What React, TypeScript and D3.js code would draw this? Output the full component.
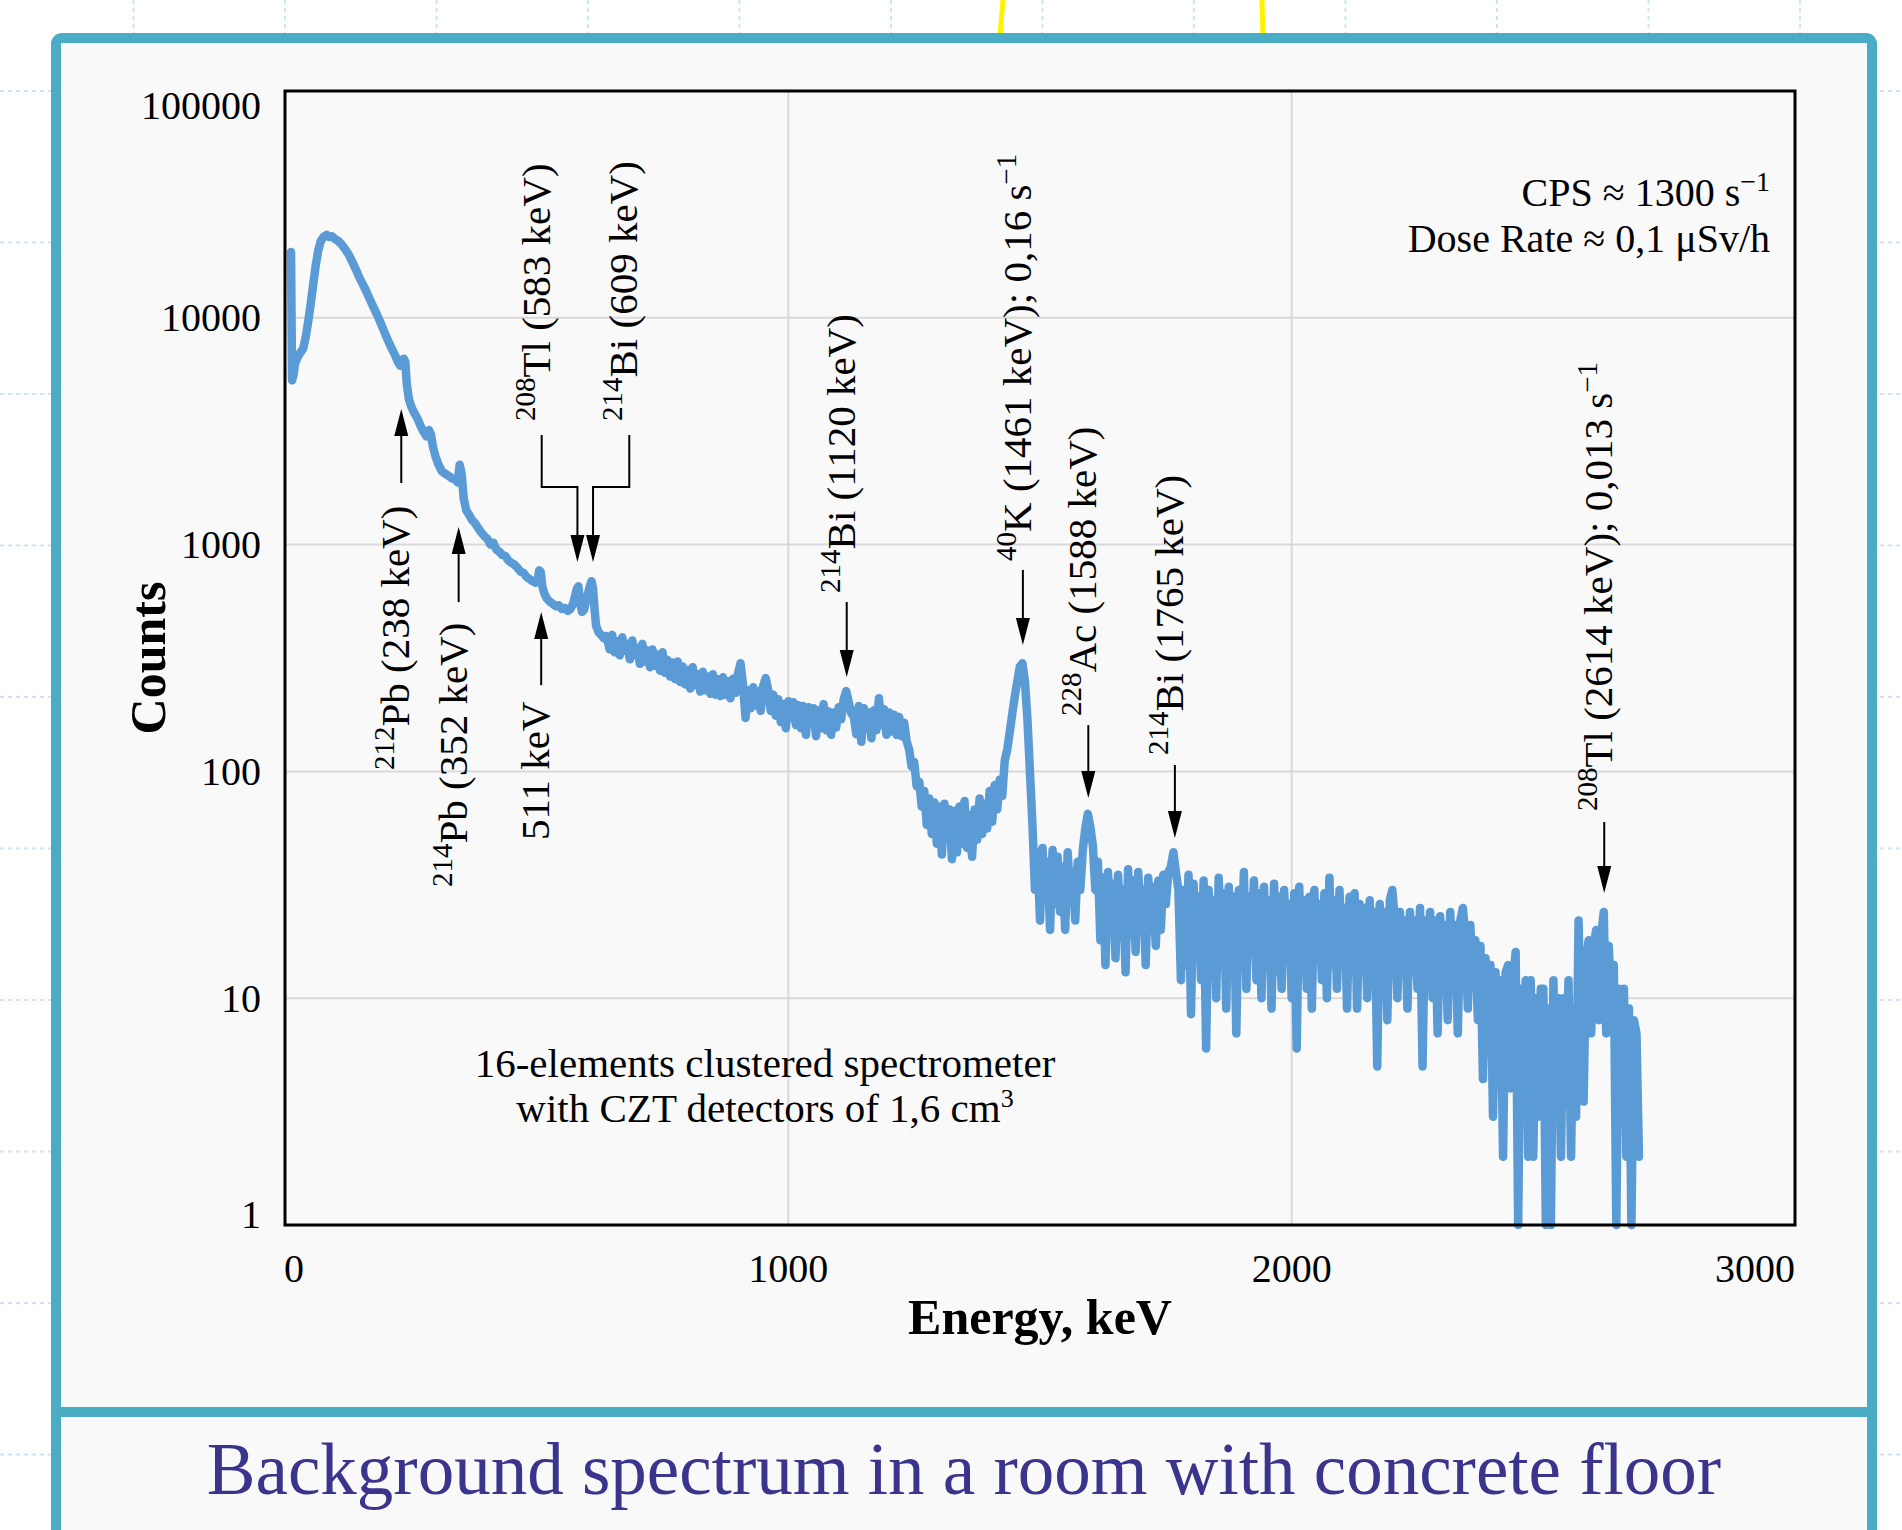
import React from "react";
import * as d3 from "d3";

const SERIF = "'Liberation Serif', 'Times New Roman', serif";

const xTickValues = [0, 1000, 2000, 3000];
const yTickValues = [1, 10, 100, 1000, 10000, 100000];

// [energy keV, counts] — low-energy part of the spectrum
const lowEnergySpectrum: [number, number][] = [
  [12, 19500], [14, 5300], [17, 5600], [20, 6300], [25, 6700], [30, 7000], [36, 7300], [41, 8200],
  [46, 9600], [51, 11500], [56, 14000], [61, 17000], [66, 19800], [71, 21800], [77, 22800], [83, 23200],
  [88, 22700], [93, 22900], [99, 22300], [106, 21800], [113, 21000], [120, 20000], [127, 18900], [134, 17600],
  [141, 16300], [148, 15000], [155, 14000], [162, 13000], [169, 12000], [176, 11100], [183, 10300], [190, 9500],
  [197, 8700], [204, 8000], [211, 7400], [218, 6900], [224, 6400], [229, 6150], [233, 6200], [236, 6600],
  [239, 6400], [242, 5100], [246, 4400], [251, 4050], [257, 3800], [263, 3600], [269, 3350], [275, 3150],
  [281, 3000], [286, 3200], [290, 3050], [294, 2700], [299, 2450], [305, 2250], [312, 2100], [319, 2050],
  [326, 2000], [333, 1950], [339, 1930], [343, 1880], [347, 2250], [351, 2050], [355, 1600], [360, 1420],
  [366, 1350], [372, 1280], [378, 1240], [384, 1180], [390, 1130], [396, 1090], [402, 1060], [408, 1000],
  [414, 1020], [420, 950], [426, 930], [432, 900], [438, 890], [444, 850], [450, 830], [456, 815],
  [462, 790], [468, 760], [474, 750], [480, 720], [486, 705], [492, 690], [498, 680], [502, 700],
  [505, 770], [508, 760], [511, 660], [515, 610], [520, 580], [526, 560], [532, 548], [538, 535],
  [544, 540], [550, 520], [556, 525], [562, 510], [567, 520], [572, 545], [576, 590], [580, 640],
  [583, 655], [586, 560], [590, 505], [594, 515], [598, 560], [602, 610], [606, 660], [609, 690],
  [612, 640], [615, 520], [618, 440], [623, 410], [628, 400], [634, 385], [638, 395],
];

// channels 640 … 1480 keV, 5 keV per channel
const midStartKeV = 640;
const midStepKeV = 5;
const midCounts = [
  385, 345, 400, 335, 375, 325, 390, 340, 365, 312,
  378, 325, 350, 298, 365, 305, 342, 288, 345, 292,
  328, 278, 335, 272, 310, 262, 302, 255, 305, 248,
  290, 242, 280, 232, 288, 240, 268, 225, 275, 228,
  262, 220, 268, 218, 255, 215, 260, 218, 250, 210,
  256, 222, 270, 300, 240, 172, 228, 190, 235, 195,
  226, 185, 238, 258, 228, 185, 218, 176, 208, 165,
  198, 155, 204, 172, 202, 160, 196, 155, 194, 145,
  192, 162, 190, 143, 186, 155, 198, 152, 184, 145,
  182, 156, 192, 170, 208, 226, 202, 180, 175, 146,
  194, 135, 190, 155, 182, 140, 186, 152, 210, 160,
  188, 145, 182, 150, 178, 145, 174, 143, 164, 136,
  125, 105, 110, 86, 90, 70, 82, 58, 76, 53,
  73, 48, 70, 43, 72, 50, 68, 41, 67, 44,
  70, 48, 74, 46, 64, 42, 68, 50, 76, 53,
  72, 56, 82, 60, 87, 68, 92, 78, 112, 125,
  150, 180, 215, 250, 290, 300, 250, 170, 100,
];

// channels 1485 … 2690 keV, 5 keV per channel
const tailStartKeV = 1485;
const tailStepKeV = 5;
const tailCounts = [
  58, 30, 44, 22, 46, 28, 40, 20, 45, 26,
  42, 24, 38, 20, 44, 28, 36, 22, 40, 30,
  45, 56, 65, 57, 47, 30, 40, 18, 34, 14,
  36, 20, 32, 15, 35, 22, 30, 13, 37, 19,
  33, 16, 36, 24, 30, 14, 34, 20, 31, 17,
  33, 20, 35, 26, 36, 38, 44, 36, 30, 12,
  30, 14, 35, 8.5, 32, 18, 28, 12, 33, 6,
  30, 15, 27, 10, 34, 18, 29, 9, 31, 16,
  28, 7, 30, 14, 36, 11, 28, 17, 33, 12,
  29, 10, 31, 15, 27, 9, 32, 13, 28, 11,
  30, 16, 26, 10, 29, 6, 31, 14, 27, 11,
  28, 9, 30, 15, 26, 12, 29, 10, 34, 14,
  27, 11, 30, 15, 25, 9, 28, 14, 29, 9,
  26, 16, 25, 10, 27, 13, 24, 5, 26, 11,
  24, 8, 27, 30, 22, 10, 24, 15, 22, 9,
  24, 13, 22, 11, 25, 5, 22, 12, 24, 10,
  22, 7, 23, 13, 21, 8, 24, 12, 21, 7,
  22, 25, 19, 9, 21, 12, 18, 8, 17, 4.4,
  15, 6, 14, 3, 13, 5, 12, 2, 13, 14,
  4, 12, 16, 1, 11, 3, 12, 2, 12, 2,
  10, 3, 11, 11, 1, 9, 1, 12, 3, 10,
  2, 10, 4, 12, 2, 9, 3, 22, 6, 3.5,
  15, 18, 7, 17, 20, 8, 19, 24, 7, 17,
  9, 14, 1, 11, 3, 11, 2, 9, 1, 8,
  7, 2,
];

// labelled peaks: arrow energy (keV), text start / arrow base / arrow tip in counts
const arrowAnnotations = [
  { sup: "212", main: "Pb (238 keV)", sup2: "", e: 231, textC: 101.4, baseC: 1869, tipC: 3963 },
  { sup: "214", main: "Pb (352 keV)", sup2: "", e: 345, textC: 30.9, baseC: 558, tipC: 1195 },
  { sup: "", main: "511 keV", sup2: "", e: 509, textC: 49.8, baseC: 240, tipC: 505 },
  { sup: "214", main: "Bi (1120 keV)", sup2: "", e: 1116, textC: 612, baseC: 558, tipC: 261 },
  { sup: "40", main: "K (1461 keV); 0,16 s", sup2: "\u22121", e: 1466, textC: 847, baseC: 773, tipC: 361 },
  { sup: "228", main: "Ac (1588 keV)", sup2: "", e: 1596, textC: 175.5, baseC: 160, tipC: 76.3 },
  { sup: "214", main: "Bi (1765 keV)", sup2: "", e: 1768, textC: 118, baseC: 106.7, tipC: 50.9 },
  { sup: "208", main: "Tl (2614 keV); 0,013 s", sup2: "\u22121", e: 2621, textC: 66.9, baseC: 59.8, tipC: 29.1 },
];

const bracketAnnotations = [
  { sup: "208", main: "Tl (583 keV)", textE: 510, arrowE: 581, textC: 3508, topC: 3043, elbowC: 1795, tipC: 838 },
  { sup: "214", main: "Bi (609 keV)", textE: 684, arrowE: 612, textC: 3508, topC: 3043, elbowC: 1795, tipC: 838 },
];

const W = 1902;
const H = 1530;
const PLOT = { left: 285, right: 1795, top: 91, bottom: 1225 };
const LINE_BLUE = "#5B9BD5";
const TEAL = "#4BACC6";
const ANN_SIZE = 41;
const SUP_SIZE = 29;
const SUP_SHIFT = 15;

function RotLabel({ x, y, sup, main, sup2 }: { x: number; y: number; sup: string; main: string; sup2: string }) {
  return (
    <text
      transform={`translate(${x},${y}) rotate(-90)`}
      fontFamily={SERIF}
      fontSize={ANN_SIZE}
      fill="#000"
    >
      {sup ? (
        <tspan fontSize={SUP_SIZE} dy={-SUP_SHIFT}>
          {sup}
        </tspan>
      ) : null}
      <tspan dy={sup ? SUP_SHIFT : 0}>{main}</tspan>
      {sup2 ? (
        <tspan fontSize={SUP_SIZE} dy={-SUP_SHIFT}>
          {sup2}
        </tspan>
      ) : null}
    </text>
  );
}

function ArrowHead({ x, tip, dir }: { x: number; tip: number; dir: number }) {
  // dir = -1 pointing up, +1 pointing down
  const len = 27;
  const hw = 7;
  const b = tip - dir * len;
  return <path d={`M${x},${tip} L${x - hw},${b} L${x + hw},${b} Z`} fill="#000" />;
}

export default function App() {
  const x = d3.scaleLinear().domain([0, 3000]).range([PLOT.left, PLOT.right]);
  const y = d3.scaleLog().domain([1, 100000]).range([PLOT.bottom, PLOT.top]);

  const data: [number, number][] = [
    ...lowEnergySpectrum,
    ...midCounts.map((c, i) => [midStartKeV + i * midStepKeV, c] as [number, number]),
    ...tailCounts.map((c, i) => [tailStartKeV + i * tailStepKeV, c] as [number, number]),
  ];

  const line = d3
    .line<[number, number]>()
    .x((d) => x(d[0]))
    .y((d) => y(Math.max(1, d[1])));

  const bgStep = 151.5;
  const bgV: number[] = [];
  for (let k = -1; k < 14; k++) bgV.push(133.5 + k * bgStep);
  const bgH: number[] = [];
  for (let k = -1; k < 11; k++) bgH.push(91 + k * bgStep);

  return (
    <div style={{ position: "absolute", left: 0, top: 0 }}>
      <svg width={W} height={H} viewBox={`0 0 ${W} ${H}`} style={{ display: "block" }}>
        <rect x={0} y={0} width={W} height={H} fill="#ffffff" />
        {/* dotted page grid */}
        <g stroke="#cfe4f6" strokeWidth={2} strokeDasharray="4 4">
          {bgV.map((v, i) => (
            <line key={"bv" + i} x1={v} x2={v} y1={0} y2={H} />
          ))}
          {bgH.map((v, i) => (
            <line key={"bh" + i} x1={0} x2={W} y1={v} y2={v} />
          ))}
        </g>
        {/* yellow hanging strings */}
        <line x1={1003} y1={0} x2={1000} y2={36} stroke="#FFF200" strokeWidth={5} />
        <line x1={1262} y1={0} x2={1263} y2={36} stroke="#FFF200" strokeWidth={5} />

        {/* panel */}
        <rect x={56} y={38} width={1816} height={1600} rx={6} fill="#F9F9F9" stroke={TEAL} strokeWidth={10} />
        <line x1={56} x2={1872} y1={1412} y2={1412} stroke={TEAL} strokeWidth={10} />

        {/* grid */}
        <g stroke="#D9D9D9" strokeWidth={2}>
          {xTickValues
            .filter((t) => t > 0 && t < 3000)
            .map((t) => (
              <line key={"gx" + t} x1={x(t)} x2={x(t)} y1={PLOT.top} y2={PLOT.bottom} />
            ))}
          {yTickValues
            .filter((t) => t > 1 && t < 100000)
            .map((t) => (
              <line key={"gy" + t} x1={PLOT.left} x2={PLOT.right} y1={y(t)} y2={y(t)} />
            ))}
        </g>

        {/* spectrum */}
        <path
          d={line(data) || ""}
          fill="none"
          stroke={LINE_BLUE}
          strokeWidth={8.5}
          strokeLinejoin="round"
          strokeLinecap="round"
        />

        {/* frame */}
        <rect
          x={PLOT.left}
          y={PLOT.top}
          width={PLOT.right - PLOT.left}
          height={PLOT.bottom - PLOT.top}
          fill="none"
          stroke="#000"
          strokeWidth={3}
        />

        {/* tick labels */}
        <g fontFamily={SERIF} fontSize={40} fill="#000">
          {yTickValues.map((t) => {
            let dy = 13.5;
            if (t === 100000) dy = 28;
            if (t === 1) dy = 2.5;
            return (
              <text key={"yt" + t} x={261} y={y(t) + dy} textAnchor="end">
                {String(t)}
              </text>
            );
          })}
          {xTickValues.map((t) => {
            const anchor = t === 0 ? "start" : t === 3000 ? "end" : "middle";
            return (
              <text key={"xt" + t} x={x(t) + (t === 0 ? -1 : 0)} y={1282} textAnchor={anchor}>
                {String(t)}
              </text>
            );
          })}
        </g>

        {/* axis titles */}
        <text
          x={(PLOT.left + PLOT.right) / 2}
          y={1334}
          textAnchor="middle"
          fontFamily={SERIF}
          fontWeight="bold"
          fontSize={50}
        >
          Energy, keV
        </text>
        <text
          transform={`translate(165,${(PLOT.top + PLOT.bottom) / 2}) rotate(-90)`}
          textAnchor="middle"
          fontFamily={SERIF}
          fontWeight="bold"
          fontSize={50}
        >
          Counts
        </text>

        {/* notes */}
        <g fontFamily={SERIF} fontSize={40} fill="#000">
          <text x={1770} y={206} textAnchor="end">
            CPS ≈ 1300 s
            <tspan fontSize={28} dy={-15}>
              {"\u22121"}
            </tspan>
          </text>
          <text x={1770} y={252} textAnchor="end">
            Dose Rate ≈ 0,1 μSv/h
          </text>
        </g>
        <g fontFamily={SERIF} fontSize={41} fill="#000" textAnchor="middle">
          <text x={765} y={1077}>16-elements clustered spectrometer</text>
          <text x={765} y={1122}>
            with CZT detectors of 1,6 cm
            <tspan fontSize={26} dy={-15}>
              3
            </tspan>
          </text>
        </g>

        {/* arrow annotations */}
        {arrowAnnotations.map((a, i) => {
          const ax = x(a.e);
          const tip = y(a.tipC);
          const base = y(a.baseC);
          const dir = tip < base ? -1 : 1;
          return (
            <g key={"an" + i}>
              <line x1={ax} x2={ax} y1={base} y2={tip - dir * 20} stroke="#000" strokeWidth={2} />
              <ArrowHead x={ax} tip={tip} dir={dir} />
              <RotLabel x={ax + 8} y={y(a.textC)} sup={a.sup} main={a.main} sup2={a.sup2} />
            </g>
          );
        })}

        {/* bracket annotations (583 / 609 keV) */}
        {bracketAnnotations.map((a, i) => {
          const tx = x(a.textE);
          const axp = x(a.arrowE);
          const top = y(a.topC);
          const elbow = y(a.elbowC);
          const tip = y(a.tipC);
          return (
            <g key={"br" + i}>
              <path
                d={`M${tx},${top} V${elbow} H${axp} V${tip - 20}`}
                fill="none"
                stroke="#000"
                strokeWidth={2}
              />
              <ArrowHead x={axp} tip={tip} dir={1} />
              <RotLabel x={tx + 8} y={y(a.textC)} sup={a.sup} main={a.main} sup2="" />
            </g>
          );
        })}

        {/* caption */}
        <text x={964} y={1494} textAnchor="middle" fontFamily={SERIF} fontSize={73} fill="#3A348C">
          Background spectrum in a room with concrete floor
        </text>
      </svg>
    </div>
  );
}
